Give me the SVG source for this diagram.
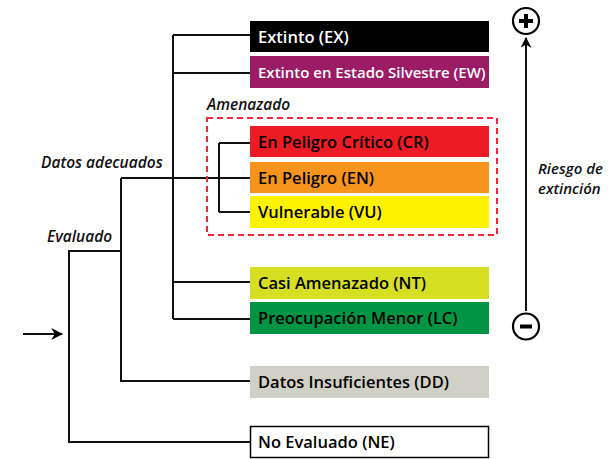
<svg xmlns="http://www.w3.org/2000/svg" width="612" height="459" viewBox="0 0 612 459">
<defs>
<style>
.box text{font-family:"Open Sans","Liberation Sans",sans-serif;font-weight:600;font-size:16.5px;fill:#000}
.lbl{font-family:"Open Sans","Liberation Sans",sans-serif;font-style:italic;font-weight:600;font-size:15.5px;fill:#111}
.ln{fill:none;stroke:#111;stroke-width:2}
</style>
<marker id="ah" viewBox="0 0 10 10" refX="9" refY="5" markerWidth="12" markerHeight="12" markerUnits="userSpaceOnUse" orient="auto"><path d="M0,0 L10,5 L0,10 L3,5 Z" fill="#000"/></marker>
<marker id="ah2" viewBox="0 0 10 10" refX="9" refY="5" markerWidth="11" markerHeight="11" markerUnits="userSpaceOnUse" orient="auto"><path d="M0,0 L10,5 L0,10 L3,5 Z" fill="#000"/></marker>
</defs>
<rect width="612" height="459" fill="#fff"/>
<g id="connectors">
<path class="ln" d="M173,35 V319 M173,35 H250 M173,73 H250 M173,282 H250 M173,319 H250"/>
<path class="ln" d="M121,178 H250 M121,178 V381 H250"/>
<path class="ln" d="M219,143 V212 M219,143 H250 M219,212 H250"/>
<path class="ln" d="M121,251 H69 V442 H250"/>
<path class="ln" d="M23,334 H62" marker-end="url(#ah)"/>
<path class="ln" d="M526,311 V38" marker-end="url(#ah2)"/>
</g>
<rect x="207" y="118" width="290" height="117" fill="none" stroke="#ee2a3a" stroke-width="2" stroke-dasharray="6,4"/>
<text class="lbl" x="207" y="110">Amenazado</text>
<text class="lbl" x="41" y="168">Datos adecuados</text>
<text class="lbl" x="47" y="242">Evaluado</text>
<text class="lbl" x="538" y="173.5" style="font-size:15px">Riesgo de</text>
<text class="lbl" x="538" y="194" style="font-size:15px">extinción</text>
<g id="plus"><circle cx="526" cy="21" r="13" fill="#fff" stroke="#000" stroke-width="2.2"/><path d="M526,14 V28 M519,21 H533" stroke="#000" stroke-width="4"/></g>
<g id="minus"><circle cx="526" cy="326.5" r="13" fill="#fff" stroke="#000" stroke-width="2.2"/><path d="M520,326.5 H532" stroke="#000" stroke-width="4"/></g>
<g id="EX" class="box"><rect x="250" y="21" width="239" height="31" fill="#000"/><text x="258" y="42.5" style="fill:#fff">Extinto (EX)</text></g>
<g id="EW" class="box"><rect x="250" y="56" width="239" height="32" fill="#9b1c64"/><text x="258" y="77.5" style="fill:#fff;font-size:15px">Extinto en Estado Silvestre (EW)</text></g>
<g id="CR" class="box"><rect x="250" y="126" width="239" height="31" fill="#ed1c24"/><text x="258" y="148">En Peligro Crítico (CR)</text></g>
<g id="EN" class="box"><rect x="250" y="162" width="239" height="31" fill="#f7941d"/><text x="258" y="184">En Peligro (EN)</text></g>
<g id="VU" class="box"><rect x="250" y="196" width="239" height="32" fill="#fff200"/><text x="258" y="218">Vulnerable (VU)</text></g>
<g id="NT" class="box"><rect x="250" y="267" width="239" height="32" fill="#d7df23"/><text x="258" y="289">Casi Amenazado (NT)</text></g>
<g id="LC" class="box"><rect x="250" y="302" width="239" height="32" fill="#009444"/><text x="258" y="324">Preocupación Menor (LC)</text></g>
<g id="DD" class="box"><rect x="250" y="366" width="239" height="32" fill="#d1d0c6"/><text x="258" y="388">Datos Insuficientes (DD)</text></g>
<g id="NE" class="box"><rect x="250.5" y="426.5" width="238" height="31" fill="#fff" stroke="#000" stroke-width="1.5"/><text x="258" y="448">No Evaluado (NE)</text></g>
</svg>
